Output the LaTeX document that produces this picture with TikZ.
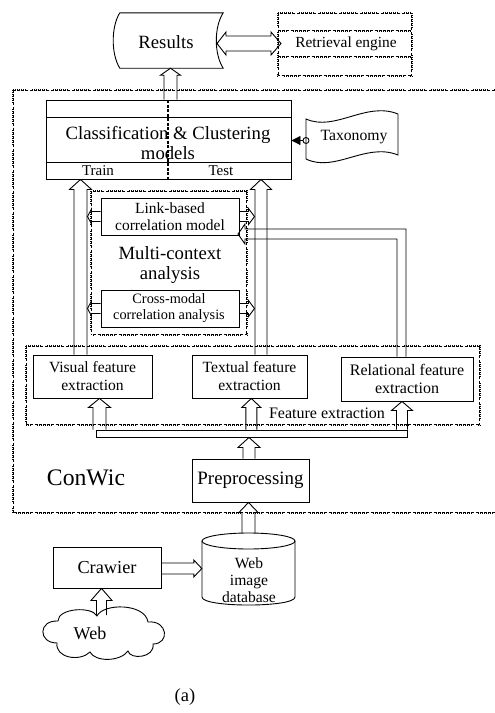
\documentclass[tikz,border=0pt]{standalone}
\usepackage{fontspec}
\setmainfont{Liberation Serif}
\usetikzlibrary{arrows.meta,calc}
\tikzset{
  dotb/.style={line width=2.4pt, dash pattern=on 3pt off 1.2pt,
    postaction={draw=white, line width=0.8pt, dash pattern=on 1.4pt off 2.8pt, dash phase=3.4pt}},
  box/.style={draw, line width=0.9pt, inner sep=0pt, rectangle},
  ghost/.style={inner sep=0pt, rectangle},
  blk/.style={draw, line width=0.9pt, line join=miter},
  txt/.style={inner sep=0pt, align=center},
  shp/.style={line width=0.9pt},
}
\newcommand{\blkup}[5]{%
  \draw[blk] let \p1=(#1), \p2=(#2) in
    (\x2-#3,\y1) -- (\x2-#3,\y2-#5) -- (\x2-#4,\y2-#5) -- (\x2,\y2) --
    (\x2+#4,\y2-#5) -- (\x2+#3,\y2-#5) -- (\x2+#3,\y1);}
\newcommand{\blkright}[5]{%
  \draw[blk] let \p1=(#1), \p2=(#2) in
    (\x1,\y2+#3) -- (\x2-#5,\y2+#3) -- (\x2-#5,\y2+#4) -- (\x2,\y2) --
    (\x2-#5,\y2-#4) -- (\x2-#5,\y2-#3) -- (\x1,\y2-#3);}
\newcommand{\blkleft}[5]{%
  \draw[blk] let \p1=(#1), \p2=(#2) in
    (\x1,\y2+#3) -- (\x2+#5,\y2+#3) -- (\x2+#5,\y2+#4) -- (\x2,\y2) --
    (\x2+#5,\y2-#4) -- (\x2+#5,\y2-#3) -- (\x1,\y2-#3);}
\begin{document}
\begin{tikzpicture}[x=1pt,y=-1pt]
\useasboundingbox (0,0) rectangle (495,713);

% ---------- Results ----------
\node[ghost, minimum width=103pt, minimum height=55pt] (res) at (171.5,40.5) {};
\draw[shp] (res.north west) -- (res.north east)
  .. controls (214,27) and (214,54) .. (res.south east)
  -- (res.south west) .. controls (111,54) and (111,27) .. (res.north west);
\node[txt, font=\fontsize{18.7}{20}\selectfont] (restxt) at (166,42) {Results};

% ---------- Retrieval engine ----------
\node[ghost, minimum width=134pt, minimum height=63pt] (ret) at (345,44.5) {};
\draw[dotb] (ret.north west) rectangle (ret.south east);
\draw[dotb] (278,31) -- (412,31);
\draw[dotb] (278,57) -- (412,57);
\node[txt, font=\fontsize{15.4}{17}\selectfont] (rettxt) at (346,44) {Retrieval engine};

\coordinate (rs) at (217,43.5);
\coordinate (rr) at (281,43.5);
\draw[blk] let \p1=(rs), \p2=(rr) in
  (\x1,\y1) -- (\x1+9pt,\y1+11.5pt) -- (\x1+9pt,\y1+7.5pt) -- (\x2-10pt,\y1+7.5pt)
  -- (\x2-10pt,\y1+11.5pt) -- (\x2,\y1) -- (\x2-10pt,\y1-11.5pt) -- (\x2-10pt,\y1-7.5pt)
  -- (\x1+9pt,\y1-7.5pt) -- (\x1+9pt,\y1-11.5pt) -- cycle;

% ---------- ConWic frame ----------
\node[ghost, minimum width=487pt, minimum height=423pt] (cw) at (256.5,301.5) {};
\draw[dotb] (cw.north west) rectangle (cw.south east);
\node[txt, font=\fontsize{23.7}{25}\selectfont] (cwtxt) at (86,478) {ConWic};

% ---------- Classification ----------
\node[box, minimum width=245pt, minimum height=79pt] (cls) at (168.5,139.5) {};
\draw[shp] (46,117) -- (291,117);
\draw[shp] (46,162) -- (291,162);
\draw[line width=2pt, dash pattern=on 3pt off 1.5pt] (168,100) -- (168,179);
\node[txt, font=\fontsize{18.7}{20}\selectfont] (clstxt) at (168,143) {Classification \& Clustering\\models};
\node[txt, font=\fontsize{15}{16}\selectfont] (train) at (98,170.5) {Train};
\node[txt, font=\fontsize{15}{16}\selectfont] (test) at (221,170.5) {Test};

% ---------- Taxonomy ----------
\draw[shp] (306,119) .. controls (335,132) and (366,101) .. (398,114) -- (398,155)
  .. controls (366,142) and (335,173) .. (306,159) -- cycle;
\node[txt, font=\fontsize{15.7}{17}\selectfont] (tax) at (354,137) {Taxonomy};
\node[circle, draw, line width=0.9pt, minimum size=6pt, inner sep=0pt] (tc) at (306,140.5) {};
\draw[line width=0.9pt, -{Triangle[length=9pt,width=9pt]}] (tc.west) -- (cls.east |- tc.west);

% ---------- Multi-context ----------
\node[ghost, minimum width=156pt, minimum height=144pt] (mc) at (169,263) {};
\draw[dotb] (mc.north west) rectangle (mc.south east);
\node[txt, font=\fontsize{18.7}{20}\selectfont] (mctxt) at (170,265) {Multi-context\\analysis};
\node[box, minimum width=138pt, minimum height=37pt] (lnk) at (170,216.5) {};
\node[txt, font=\fontsize{15.5}{17}\selectfont] (lnktxt) at (170,217) {Link-based\\correlation model};
\node[box, minimum width=138pt, minimum height=37pt] (crs) at (170,308.5) {};
\node[txt, font=\fontsize{14.3}{16}\selectfont] (crstxt) at (169,308) {Cross-modal\\correlation analysis};

% ---------- Feature extraction ----------
\node[ghost, minimum width=454pt, minimum height=79pt] (fe) at (253,385.5) {};
\draw[dotb] (fe.north west) rectangle (fe.south east);
\node[txt, font=\fontsize{16}{17}\selectfont] (fetxt) at (327,413) {Feature extraction};
\node[box, minimum width=119pt, minimum height=43pt, align=center, font=\fontsize{15.6}{18}\selectfont] (vis) at (92.5,376.5) {Visual feature\\extraction};
\node[box, minimum width=115pt, minimum height=43pt, align=center, font=\fontsize{15.6}{18}\selectfont] (tex) at (249.5,376.5) {Textual feature\\extraction};
\node[box, minimum width=132pt, minimum height=44pt, align=center, font=\fontsize{16}{18}\selectfont] (rel) at (407,379) {Relational feature\\extraction};
\node[box, minimum width=311pt, minimum height=7pt] (bar) at (251.5,433.5) {};

% ---------- Preprocessing ----------
\node[box, minimum width=117pt, minimum height=43pt, font=\fontsize{18.9}{20}\selectfont] (pre) at (250.5,480.5) {Preprocessing};

% ---------- Database ----------
\node[ghost, minimum width=93pt, minimum height=72pt] (db) at (248.5,569) {};
\draw[shp] (202,541) -- (202,597) .. controls (202,607.7) and (295,607.7) .. (295,597) -- (295,541);
\draw[shp] (248.5,541) ellipse [x radius=46.5, y radius=8];
\node[txt, font=\fontsize{15.6}{17}\selectfont] (dbtxt) at (249,580) {Web\\image\\database};

% ---------- Crawier ----------
\node[box, minimum width=108pt, minimum height=41pt, font=\fontsize{18.3}{20}\selectfont] (crw) at (107,567.5) {Crawier};

% ---------- Cloud ----------
\draw[shp] (58,621) .. controls (58,608) and (92,606) .. (97,616)
  .. controls (103,603) and (145,603) .. (148,622)
  .. controls (168,620) and (170,644) .. (153,644)
  .. controls (155,658) and (130,660) .. (128,651)
  .. controls (120,662) and (95,662) .. (90,652)
  .. controls (80,662) and (55,658) .. (57,643)
  .. controls (38,643) and (38,620) .. (58,621) -- cycle;
\node[txt, font=\fontsize{18}{20}\selectfont] (web) at (90,633) {Web};
\coordinate (cloudtop) at (101.5,615);

\node[txt, font=\fontsize{18.5}{20}\selectfont] (cap) at (185,697) {(a)};

% ---------- Block arrows ----------
\coordinate (x0) at (170.5,0);
\coordinate (x1) at (80.5,0);
\coordinate (x2) at (261,0);
\coordinate (x3) at (99.5,0);
\coordinate (x4) at (251.3,0);
\coordinate (x5) at (402,0);
\coordinate (x6) at (249,0);
\coordinate (x7) at (248.5,0);
\coordinate (x8) at (101.5,0);
\coordinate (trR) at (87.5,0);
\coordinate (teL) at (254.5,0);
\coordinate (y9) at (0,568.5);
\coordinate (reltip) at (238,234);
\coordinate (x5b) at (401.5,0);

\blkup{x0 |- cls.north}{x0 |- res.south}{6.5pt}{10pt}{7pt}
\blkup{x1 |- vis.north}{x1 |- cls.south}{6.5pt}{11pt}{10pt}
\blkup{x2 |- tex.north}{x2 |- cls.south}{6pt}{10.5pt}{10pt}
\blkup{x3 |- bar.north}{x3 |- vis.south}{6.5pt}{11pt}{9pt}
\blkup{x4 |- bar.north}{x4 |- tex.south}{5.5pt}{9.5pt}{9pt}
\blkup{x5 |- bar.north}{x5 |- rel.south}{5.5pt}{10.5pt}{9pt}
\blkup{x6 |- pre.north}{x6 |- bar.south}{6pt}{11pt}{10pt}
\blkup{x7 |- db.north}{x7 |- pre.south}{6.5pt}{9.5pt}{10pt}
\blkup{x8 |- cloudtop}{x8 |- crw.south}{5pt}{10.5pt}{12pt}
\blkright{crw.east |- y9}{db.west |- y9}{5.5pt}{8.5pt}{8pt}

\blkleft{lnk.west}{trR |- lnk.west}{5pt}{7.5pt}{4pt}
\blkright{lnk.east}{teL |- lnk.east}{5pt}{8pt}{6pt}
\blkleft{crs.west}{trR |- crs.west}{5pt}{7.5pt}{4pt}
\blkright{crs.east}{teL |- crs.east}{5pt}{8pt}{6pt}

\draw[blk] let \p1=(x5b |- rel.north), \p2=(reltip) in
  (\x1+4.5pt,\y1) -- (\x1+4.5pt,\y2+5pt) -- (\x2+7pt,\y2+5pt) -- (\x2+7pt,\y2+10pt)
  -- (\x2,\y2) -- (\x2+7pt,\y2-10pt) -- (\x2+7pt,\y2-5pt) -- (\x1-4.5pt,\y2-5pt)
  -- (\x1-4.5pt,\y1);
\end{tikzpicture}
\end{document}
